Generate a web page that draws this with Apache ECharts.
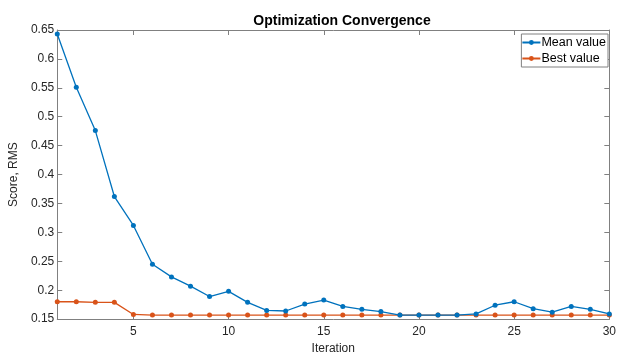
<!DOCTYPE html>
<html>
<head>
<meta charset="utf-8">
<script src="https://cdn.jsdelivr.net/npm/echarts@6/dist/echarts.min.js"></script>
<style>html,body{margin:0;padding:0;background:#fff}#c{width:619px;height:360px}</style>
</head>
<body>
<div id="c"></div>
<script>
const iterations = [1,2,3,4,5,6,7,8,9,10,11,12,13,14,15,16,17,18,19,20,21,22,23,24,25,26,27,28,29,30];
const meanValue = [0.643,0.551,0.476,0.362,0.312,0.245,0.223,0.207,0.189,0.198,0.179,0.165,0.164,0.176,0.183,0.172,0.167,0.163,0.157,0.157,0.157,0.157,0.159,0.174,0.180,0.168,0.162,0.172,0.167,0.159];
const bestValue = [0.180,0.180,0.179,0.179,0.158,0.157,0.157,0.157,0.157,0.157,0.157,0.157,0.157,0.157,0.157,0.157,0.157,0.157,0.157,0.157,0.157,0.157,0.157,0.157,0.157,0.157,0.157,0.157,0.157,0.157];
const xTicks = [5,10,15,20,25,30];
const yTicks = [0.15,0.2,0.25,0.3,0.35,0.4,0.45,0.5,0.55,0.6,0.65];

const FONT = '"Liberation Sans", Arial, Helvetica, sans-serif';
const AX = '#808080';
const TXT = '#262626';
const chart = echarts.init(document.getElementById('c'), null, {renderer:'canvas'});
const pairs = a => iterations.map((x,i)=>[x,a[i]]);
const baseX = {type:'value', min:1, max:30, axisLine:{show:true, onZero:false, lineStyle:{color:AX, width:1}},
  axisTick:{show:true, inside:true, length:5, customValues:xTicks, lineStyle:{color:AX}},
  splitLine:{show:false}};
const baseY = {type:'value', min:0.15, max:0.65, axisLine:{show:true, onZero:false, lineStyle:{color:AX, width:1}},
  axisTick:{show:true, inside:true, length:5, customValues:yTicks, lineStyle:{color:AX}},
  splitLine:{show:false}};
chart.setOption({
  animation:false,
  backgroundColor:'#fff',
  title:{text:'Optimization Convergence', left:337, top:9, textAlign:'center',
    textStyle:{fontFamily:FONT, fontSize:14, fontWeight:'bold', color:'#000'}},
  grid:{left:52, right:7, top:30, bottom:35, containLabel:false},
  legend:{right:11, top:34, orient:'vertical', itemGap:3, itemWidth:18, itemHeight:6,
    backgroundColor:'#fff', borderColor:AX, borderWidth:1, padding:[2,2,2,0],
    textStyle:{fontFamily:FONT, fontSize:12.5, color:'#000', padding:[0,0,0,-4]},
    data:['Mean value','Best value']},
  xAxis:[
    Object.assign({}, baseX, {position:'bottom', name:'Iteration', nameLocation:'middle', nameGap:22,
      nameTextStyle:{fontFamily:FONT, fontSize:12, color:TXT},
      axisLabel:{show:true, customValues:xTicks, margin:7, fontFamily:FONT, fontSize:12, color:TXT}}),
    Object.assign({}, baseX, {position:'top', axisLabel:{show:false}})
  ],
  yAxis:[
    Object.assign({}, baseY, {position:'left', name:'Score, RMS', nameLocation:'middle', nameGap:33,
      nameTextStyle:{fontFamily:FONT, fontSize:12, color:TXT},
      axisLabel:{show:true, customValues:yTicks, margin:3, fontFamily:FONT, fontSize:12, color:TXT}}),
    Object.assign({}, baseY, {position:'right', axisLabel:{show:false}})
  ],
  series:[
    {name:'Mean value', type:'line', data:pairs(meanValue), symbol:'circle', symbolSize:5,
      lineStyle:{color:'#0072BD', width:1.3}, itemStyle:{color:'#0072BD'}, z:3},
    {name:'Best value', type:'line', data:pairs(bestValue), symbol:'circle', symbolSize:5,
      lineStyle:{color:'#D95319', width:1.3}, itemStyle:{color:'#D95319'}, z:2}
  ]
});
</script>
</body>
</html>
